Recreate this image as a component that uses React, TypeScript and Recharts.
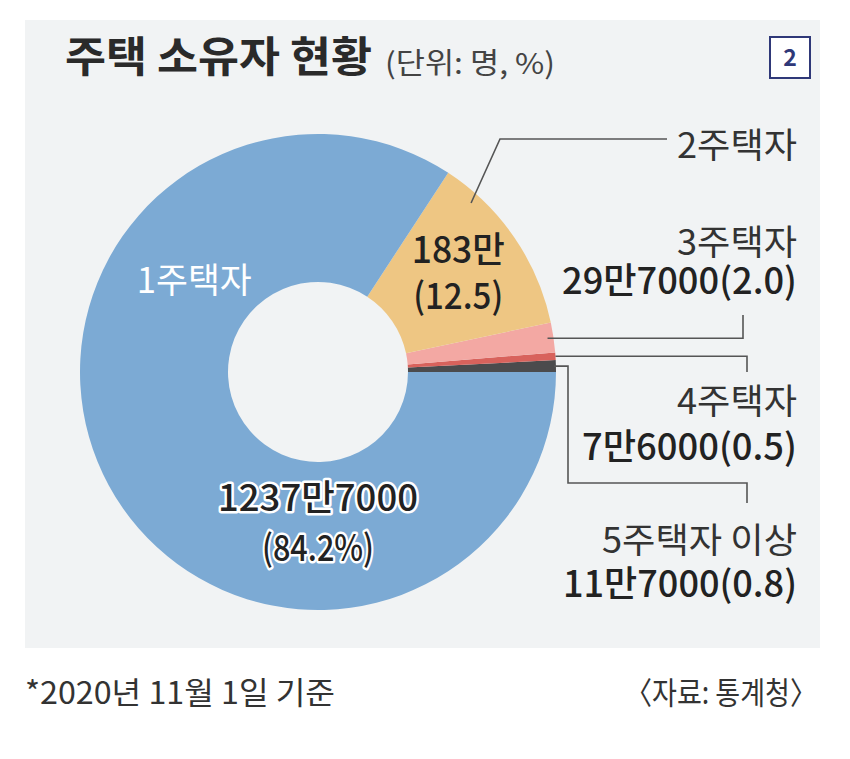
import React from "react";
import { PieChart, Pie, Cell, Customized } from "recharts";

// 주택 소유자 현황 (2020.11.1 기준, 통계청)
const categories = ["5주택자 이상", "4주택자", "3주택자", "2주택자", "1주택자"];
const owners = [117000, 76000, 297000, 1830000, 12377000];
const shares = ["0.8", "0.5", "2.0", "12.5", "84.2%"];
const ownerLabels = ["11만7000", "7만6000", "29만7000", "183만", "1237만7000"];
const colors = ["#4b4b4d", "#d8625c", "#f3a8a3", "#eec683", "#7caad4"];

const data = categories.map((name, i) => ({ name, value: owners[i] }));

const FONT = "'Noto Sans CJK KR', 'Noto Sans', sans-serif";
const INK = "#222";
const LINE = "#555";
const RAD = Math.PI / 180;

const polar = (cx: number, cy: number, r: number, deg: number) => ({
  x: cx + r * Math.cos(-deg * RAD),
  y: cy + r * Math.sin(-deg * RAD),
});

function RightLabel({ y1, y2, i }: { y1: number; y2: number; i: number }) {
  const w1 = i === 0 ? 195 : 120;
  const w2 = { 0: 234, 1: 215, 2: 235 }[i] as number;
  return (
    <g fontFamily={FONT} fill={INK} textAnchor="end">
      <text x={797} y={y1} fontSize={35} textLength={w1} lengthAdjust="spacingAndGlyphs" fill="#333">
        {categories[i]}
      </text>
      <text x={797} y={y2} fontSize={36} fontWeight={500} textLength={w2} lengthAdjust="spacingAndGlyphs">
        {`${ownerLabels[i]}(${shares[i]})`}
      </text>
    </g>
  );
}

function renderLabel(props: any) {
  const { cx, cy, midAngle, outerRadius, endAngle, index } = props;
  if (index === 0) {
    const s = polar(cx, cy, outerRadius - 2, midAngle);
    return (
      <g key="l0">
        <path d={`M${s.x},${s.y} H568 V483 H747 V503`} fill="none" stroke={LINE} strokeWidth={1.6} />
        <RightLabel i={0} y1={553} y2={597} />
      </g>
    );
  }
  if (index === 1) {
    const s = polar(cx, cy, outerRadius, midAngle);
    return (
      <g key="l1">
        <path d={`M${s.x},${s.y} H747 V372`} fill="none" stroke={LINE} strokeWidth={1.6} />
        <RightLabel i={1} y1={414} y2={460} />
      </g>
    );
  }
  if (index === 2) {
    const s = polar(cx, cy, outerRadius - 6, midAngle);
    return (
      <g key="l2">
        <path d={`M${s.x},${s.y} H743 V315`} fill="none" stroke={LINE} strokeWidth={1.6} />
        <RightLabel i={2} y1={255} y2={294} />
      </g>
    );
  }
  if (index === 3) {
    const s = polar(cx, cy, outerRadius - 10, endAngle - 9);
    const c = polar(cx, cy, 170, midAngle);
    return (
      <g key="l3" fontFamily={FONT}>
        <path d={`M${s.x},${s.y} L500,139 H667`} fill="none" stroke={LINE} strokeWidth={1.6} />
        <text x={797} y={158} fontSize={35} textAnchor="end" fill="#333" textLength={120} lengthAdjust="spacingAndGlyphs">
          {categories[3]}
        </text>
        <text x={c.x} y={c.y - 13} fontSize={36} fontWeight={500} textAnchor="middle" fill={INK} textLength={93} lengthAdjust="spacingAndGlyphs">
          {ownerLabels[3]}
        </text>
        <text x={c.x} y={c.y + 33} fontSize={36} fontWeight={500} textAnchor="middle" fill={INK} textLength={90} lengthAdjust="spacingAndGlyphs">
          {`(${shares[3]})`}
        </text>
      </g>
    );
  }
  const n = polar(cx, cy, 156, 142.5);
  const v = polar(cx, cy, 153, 270);
  return (
    <g key="l4" fontFamily={FONT} textAnchor="middle">
      <text x={n.x} y={n.y + 16} fontSize={35} fill="#fff" textLength={115} lengthAdjust="spacingAndGlyphs">
        {categories[4]}
      </text>
      <g stroke="#fff" strokeWidth={5} strokeLinejoin="round" style={{ paintOrder: "stroke" }} fill={INK} fontWeight={500}>
        <text x={v.x} y={v.y - 14} fontSize={36} textLength={200} lengthAdjust="spacingAndGlyphs">
          {ownerLabels[4]}
        </text>
        <text x={v.x} y={v.y + 36} fontSize={36} textLength={112} lengthAdjust="spacingAndGlyphs">
          {`(${shares[4]})`}
        </text>
      </g>
    </g>
  );
}

function Heading() {
  return (
    <g fontFamily={FONT}>
      <text x={65} y={72} fontSize={42} fontWeight={700} fill="#2a2a2a" textLength={307} lengthAdjust="spacingAndGlyphs">
        주택 소유자 현황
      </text>
      <text x={385} y={74} fontSize={29} fill="#444" textLength={170} lengthAdjust="spacingAndGlyphs">
        (단위: 명, %)
      </text>
      <rect x={770} y={37} width={40} height={41} fill="#fff" stroke="#2f3878" strokeWidth={2} />
      <text x={790} y={66} fontSize={23} fontWeight={700} fill="#2f3878" textAnchor="middle">
        2
      </text>
      <text x={25} y={704} fontSize={31} fill="#333" textLength={310} lengthAdjust="spacingAndGlyphs">
        *2020년 11월 1일 기준
      </text>
      <text x={817} y={704} fontSize={31} fill="#333" textAnchor="end" textLength={192} lengthAdjust="spacingAndGlyphs">
        〈자료: 통계청〉
      </text>
    </g>
  );
}

export default function App() {
  return (
    <div style={{ position: "absolute", left: 0, top: 0, width: 850, height: 759, background: "#fff" }}>
      <div style={{ position: "absolute", left: 25, top: 20, width: 795, height: 628, background: "#f1f3f4" }} />
      <div style={{ position: "absolute", left: 0, top: 0 }}>
        <PieChart width={850} height={759}>
          <Customized component={Heading} />
          <Pie
            data={data}
            dataKey="value"
            nameKey="name"
            cx={313}
            cy={367}
            innerRadius={90}
            outerRadius={238}
            startAngle={0}
            endAngle={360}
            stroke="none"
            label={renderLabel}
            labelLine={false}
            isAnimationActive={false}
          >
            {data.map((d, i) => (
              <Cell key={d.name} fill={colors[i]} />
            ))}
          </Pie>
        </PieChart>
      </div>
    </div>
  );
}
